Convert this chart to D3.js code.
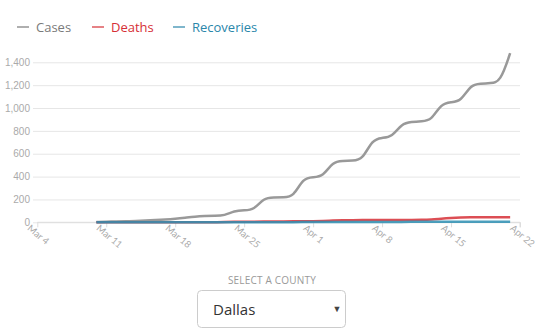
<!DOCTYPE html>
<html>
<head>
<meta charset="utf-8">
<script src="https://cdn.jsdelivr.net/npm/d3@7"></script>
<style>
  html, body { margin: 0; padding: 0; background: #fff; }
  svg { display: block; font-family: "Open Sans", "Noto Sans", sans-serif; }
</style>
</head>
<body>
<svg id="chart" width="535" height="332"></svg>
<script>
// ---- data ----
const startDate = "2020-03-10";
const cases = [3, 5, 7, 9, 12, 15, 19, 24, 31, 40, 50, 55, 57, 58,
  100, 105, 108, 215, 218, 220, 222, 388, 395, 400, 530, 536, 540, 545,
  725, 740, 745, 865, 878, 885, 890, 1040, 1052, 1058, 1205, 1212, 1218, 1225, 1480];
const deaths = [0, 0, 0, 0, 0, 0, 0, 0, 0, 0, 0, 0, 1, 3,
  4, 5, 6, 6, 7, 8, 9, 10, 10, 11, 16, 18, 19, 19,
  20, 20, 20, 20, 20, 21, 24, 32, 38, 42, 44, 45, 45, 45, 45];
const recoveries = [0, 0, 0, 0, 0, 0, 0, 0, 0, 0, 0, 0, 0, 0,
  0, 0, 1, 1, 1, 1, 1, 2, 2, 2, 2, 2, 3, 3,
  3, 3, 3, 3, 4, 4, 4, 4, 4, 5, 5, 5, 5, 5, 5];
const xTickLabels = ["Mar 4", "Mar 11", "Mar 18", "Mar 25", "Apr 1", "Apr 8", "Apr 15", "Apr 22"];
const yTicks = [0, 200, 400, 600, 800, 1000, 1200, 1400];
const seriesNames = ["Cases", "Deaths", "Recoveries"];
const seriesColors = ["#999999", "#d62f36", "#2e8fb3"];
const legendColors = ["#7a7a7a", "#d62f36", "#2a86aa"];
const countyLabel = "SELECT A COUNTY";
const countyName = "Dallas";

// ---- setup ----
const svg = d3.select("#chart");
const parse = d3.timeParse("%Y-%m-%d");
const t0 = parse(startDate);
const dates = cases.map((_, i) => d3.timeDay.offset(t0, i));
const tickDates = xTickLabels.map(s => d3.timeParse("%b %d %Y")(s + " 2020"));

const x = d3.scaleTime()
  .domain([tickDates[0], tickDates[tickDates.length - 1]])
  .range([37.3, 520]);
const y = d3.scaleLinear().domain([0, 1400]).range([222.3, 62.3]);

// gridlines + y axis
const yAxis = d3.axisLeft(y).tickValues(yTicks)
  .tickSize(-(520 - 33)).tickPadding(3)
  .tickFormat(d3.format(","));
const gy = svg.append("g").attr("transform", "translate(33,0)").call(yAxis);
gy.select(".domain").remove();
gy.selectAll(".tick line").attr("stroke", "#e6e6e6").attr("stroke-width", 1);
gy.selectAll(".tick text").attr("fill", "#aaaaaa").attr("font-size", 10);

// x axis
const xAxis = d3.axisBottom(x).tickValues(tickDates).tickSize(5).tickFormat((d, i) => xTickLabels[i]);
const gx = svg.append("g").attr("transform", `translate(0,${y(0)})`).call(xAxis);
gx.select(".domain").attr("stroke", "#dddddd").attr("d", `M${x.range()[0]},0H${x.range()[1]}V5`);
gx.selectAll(".tick line").attr("stroke", "#dddddd");
gx.selectAll(".tick text")
  .attr("fill", "#aaaaaa").attr("font-size", 9.5)
  .attr("font-family", "Lato, 'Open Sans', sans-serif")
  .attr("text-anchor", "start")
  .attr("dy", 0).attr("y", 0)
  .attr("transform", "translate(-11,7) rotate(40)");

// lines
const line = vals => d3.line()
  .x((d, i) => x(dates[i]))
  .y(d => y(d))
  .curve(d3.curveBasis)(vals);

const allSeries = [cases, deaths, recoveries];
allSeries.forEach((vals, k) => {
  svg.append("path")
    .attr("d", line(vals))
    .attr("fill", "none")
    .attr("stroke", seriesColors[k])
    .attr("stroke-width", 2.5)
    .attr("stroke-opacity", k === 0 ? 1 : 0.85)
    .attr("stroke-linejoin", "round");
});

// legend
const legendX = [17, 92, 173];
seriesNames.forEach((name, k) => {
  const g = svg.append("g").attr("transform", `translate(${legendX[k]},27)`);
  g.append("line").attr("x1", 0).attr("x2", 12).attr("y1", 0).attr("y2", 0)
    .attr("stroke", legendColors[k]).attr("stroke-width", 1.2);
  g.append("text").attr("x", 19).attr("y", 4.5)
    .attr("font-size", 13).attr("fill", legendColors[k]).text(name);
});

// county selector
svg.append("text").attr("x", 272).attr("y", 284)
  .attr("text-anchor", "middle").attr("font-size", 10)
  .attr("fill", "#999999").attr("letter-spacing", 0.2).text(countyLabel);
svg.append("rect").attr("x", 197.5).attr("y", 290.5).attr("width", 148).attr("height", 37)
  .attr("rx", 4).attr("fill", "#fff").attr("stroke", "#cccccc");
svg.append("text").attr("x", 213).attr("y", 315)
  .attr("font-size", 15).attr("fill", "#333333").text(countyName);
svg.append("text").attr("x", 337).attr("y", 312)
  .attr("text-anchor", "middle").attr("font-size", 9).attr("fill", "#444").text("▼");
</script>
</body>
</html>
